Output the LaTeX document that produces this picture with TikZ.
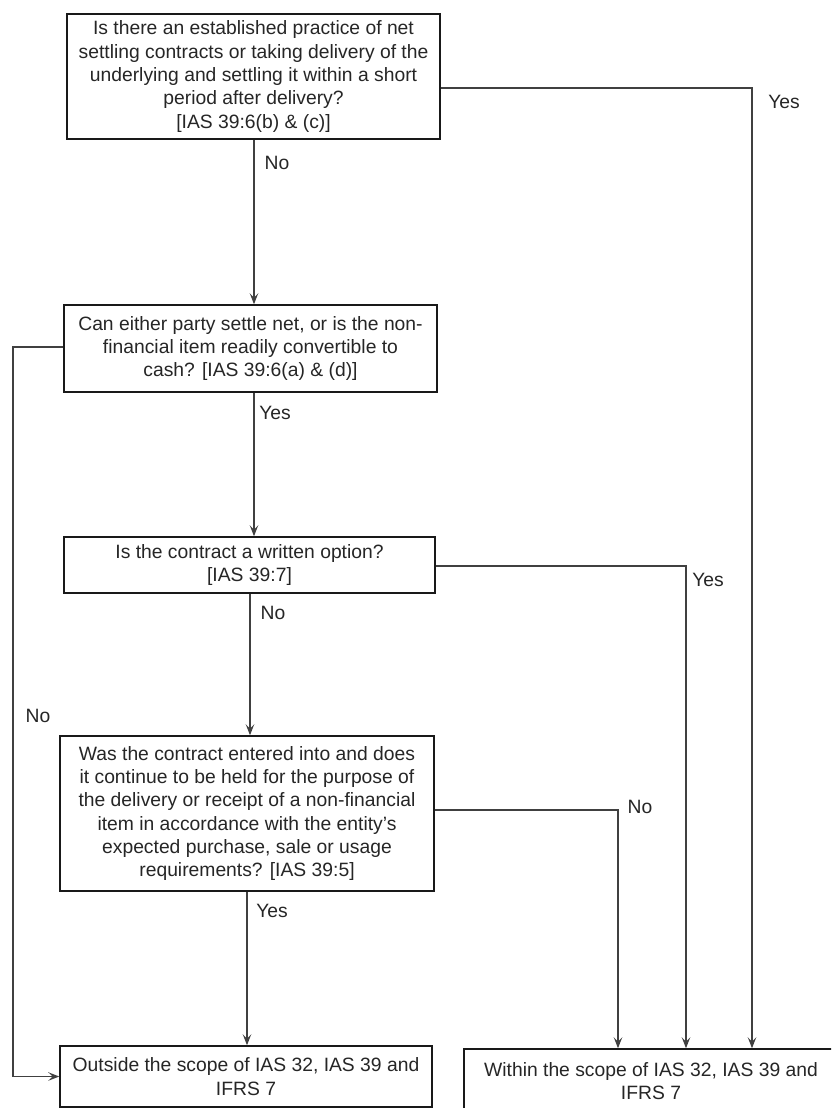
\documentclass[tikz,border=0pt]{standalone}
\usepackage{fontspec}
\setmainfont{Liberation Sans}
\usetikzlibrary{arrows.meta}
\begin{document}
\begin{tikzpicture}[x=1pt,y=-1pt,
  box/.style={draw=black!90, line width=1.5pt, align=center, inner sep=0pt, font=\fontsize{19.3}{23.3}\selectfont, text=black!85},
  conn/.style={draw=black!75, line width=1.2pt},
  arr/.style={conn, -{Stealth[length=11pt,width=8.5pt,inset=4.5pt]}},
  lbl/.style={font=\fontsize{19.3}{23}\selectfont, inner sep=0pt, text=black!85}]
\useasboundingbox[fill=white] (0,0) rectangle (831,1108);
\clip (0,0) rectangle (831,1108);

% boxes
\node[box, minimum width=373pt, minimum height=125pt] (b1) at (253.5,76.5)
  {Is there an established practice of net\\
   settling contracts or taking delivery of the\\
   underlying and settling it within a short\\
   period after delivery?\\
   {[IAS 39:6(b) \& (c)]}};
\node[box, minimum width=373pt, minimum height=87pt] (b2) at (250.5,348.5)
  {Can either party settle net, or is the non-\\
   financial item readily convertible to\\
   cash? [IAS 39:6(a) \& (d)]};
\node[box, minimum width=371pt, minimum height=56pt] (b3) at (249.5,565)
  {Is the contract a written option?\\
   {[IAS 39:7]}};
\node[box, minimum width=374pt, minimum height=155pt] (b4) at (247,813.5)
  {Was the contract entered into and does\\
   it continue to be held for the purpose of\\
   the delivery or receipt of a non-financial\\
   item in accordance with the entity's\\
   expected purchase, sale or usage\\
   requirements? [IAS 39:5]};
\node[box, minimum width=372pt, minimum height=61pt] (out) at (246,1076.5)
  {Outside the scope of IAS 32, IAS 39 and\\ IFRS 7};
\node[box, minimum width=374pt, minimum height=64pt] (win) at (651,1081)
  {Within the scope of IAS 32, IAS 39 and\\ IFRS 7};

% helper coordinates
\coordinate (v1) at (254,0);
\coordinate (v2) at (254,0);
\coordinate (v3) at (250,0);
\coordinate (v4) at (247,0);
\coordinate (r1) at (752,88);
\coordinate (r3) at (686,566);
\coordinate (r4) at (618,810);
\coordinate (l2) at (13,347);

% vertical flow
\draw[arr] (b1.south -| v1) -- (b2.north -| v1);
\draw[arr] (b2.south -| v2) -- (b3.north -| v2);
\draw[arr] (b3.south -| v3) -- (b4.north -| v3);
\draw[arr] (b4.south -| v4) -- (out.north -| v4);

% right branches
\draw[arr] (b1.east |- r1) -- (r1) -- (r1 |- win.north);
\draw[arr] (b3.east |- r3) -- (r3) -- (r3 |- win.north);
\draw[arr] (b4.east |- r4) -- (r4) -- (r4 |- win.north);

% left branch
\draw[arr] (b2.west |- l2) -- (l2) -- (l2 |- out.west) -- (out.west);

% labels
\node[lbl] (n1) at (277,163) {No};
\node[lbl] (y1) at (784,102) {Yes};
\node[lbl] (y2) at (275,413) {Yes};
\node[lbl] (y3) at (708,580) {Yes};
\node[lbl] (n3) at (273,613) {No};
\node[lbl] (n2) at (38,716) {No};
\node[lbl] (n4) at (640,807) {No};
\node[lbl] (y4) at (272,911) {Yes};
\end{tikzpicture}
\end{document}
